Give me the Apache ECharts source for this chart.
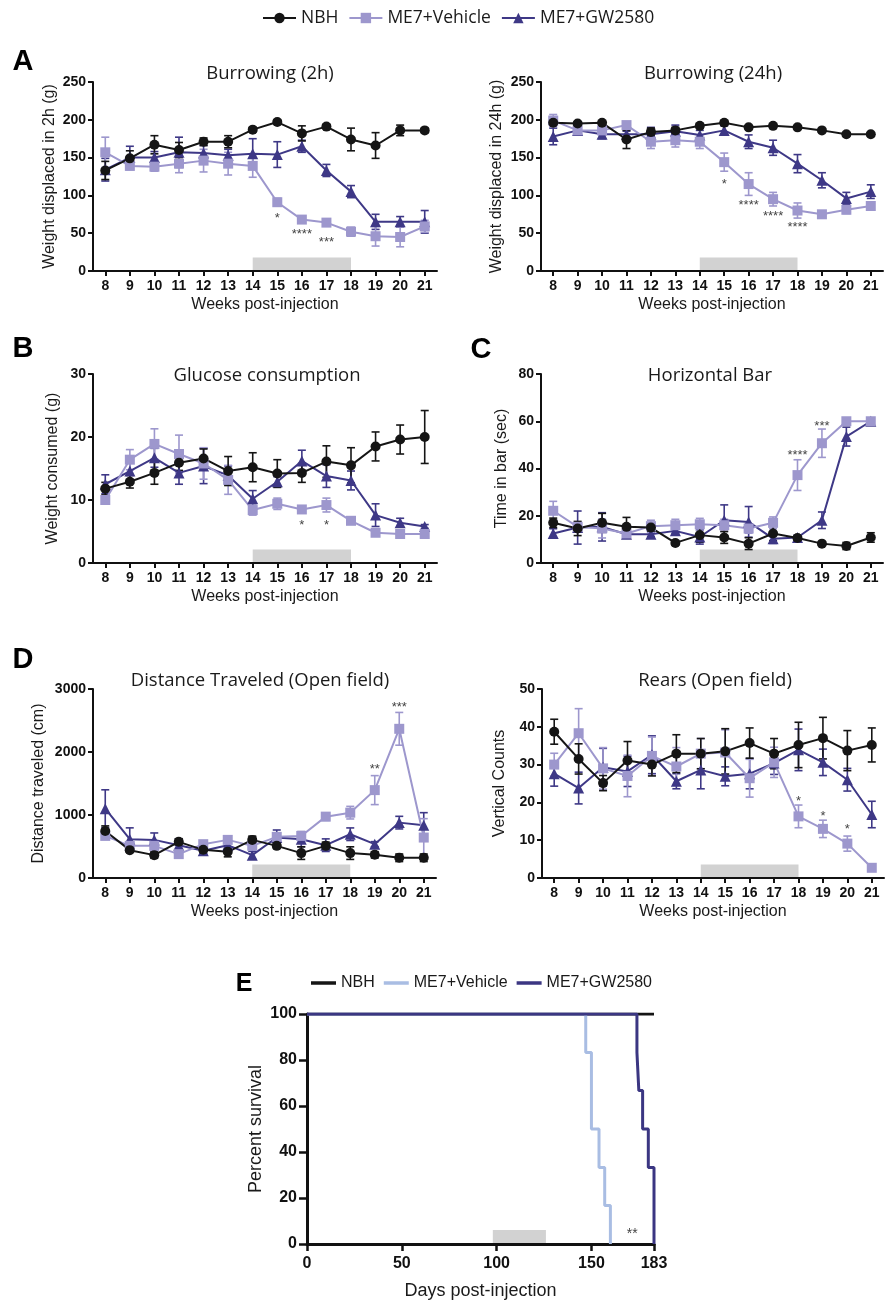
<!DOCTYPE html>
<html><head><meta charset="utf-8">
<script src="https://cdn.jsdelivr.net/npm/echarts@6/dist/echarts.min.js"></script>
<style>html,body{margin:0;padding:0;background:#fff}#c{width:891px;height:1301px}</style>
</head><body><div id="c"></div>
<script>
// ---------------- DATA ----------------
const weeks = [8,9,10,11,12,13,14,15,16,17,18,19,20,21];
const treatWeeks = [14, 18];
const treatDays = [98, 126];
const groupNames = ['NBH','ME7+Vehicle','ME7+GW2580'];

// A: Burrowing (2h)
const burrow2_NBH     = [133,149,167,160,171,171,187,197,182,191,174,166,186,186];
const burrow2_NBH_err = [12,10,12,10,5,8,3,3,10,3,15,17,7,3];
const burrow2_VEH     = [157,139,138,142,146,142,139,91,68,64,52,46,45,59];
const burrow2_VEH_err = [20,5,6,12,15,15,15,5,4,3,6,13,13,8];
const burrow2_GW      = [134,150,150,157,156,153,155,154,165,133,105,65,65,65];
const burrow2_GW_err  = [15,15,8,20,10,8,20,17,8,8,8,10,7,15];
const burrow2_stars   = [[15,73,'*'],[16,52,'****'],[17,41,'***']];

// A: Burrowing (24h)
const burrow24_NBH     = [196,195,196,174,184,186,192,196,190,192,190,186,181,181];
const burrow24_NBH_err = [3,2,2,12,5,4,3,3,2,2,2,2,2,2];
const burrow24_VEH     = [199,186,186,193,171,173,171,144,115,95,80,75,81,86];
const burrow24_VEH_err = [8,3,6,4,9,9,9,12,15,9,10,4,5,3];
const burrow24_GW      = [178,186,181,181,181,185,180,186,171,163,142,120,96,105];
const burrow24_GW_err  = [11,3,6,4,9,8,6,6,9,10,12,10,8,9];
const burrow24_stars   = [[15,118,'*'],[16,90,'****'],[17,76,'****'],[18,62,'****']];

// B: Glucose consumption
const glucose_NBH     = [11.8,12.9,14.3,15.9,16.6,14.6,15.2,14.2,14.3,16.1,15.5,18.5,19.6,20.0];
const glucose_NBH_err = [1,1,1.8,1.2,1.5,2.3,2.3,2.2,1.5,2.5,2.8,2.3,2.3,4.2];
const glucose_VEH     = [10.0,16.4,18.9,17.3,15.8,13.2,8.4,9.4,8.5,9.2,6.7,4.8,4.6,4.6];
const glucose_VEH_err = [0.6,1.6,2.4,3,2.5,2.3,0.8,0.9,0.3,1.1,0.3,0.3,0.3,0.3];
const glucose_GW      = [12.5,14.6,16.7,14.3,15.4,13.9,10.2,12.9,16.2,13.8,13.1,7.6,6.4,5.8];
const glucose_GW_err  = [1.5,1.5,1.5,1.8,2.8,1.5,1.3,0.8,1.7,1.8,1.5,1.8,0.7,0.3];
const glucose_stars   = [[16,6.4,'*'],[17,6.4,'*']];

// C: Horizontal Bar
const hbar_NBH     = [17.0,14.6,17.0,15.3,15.0,8.5,11.8,10.8,8.2,12.5,10.6,8.2,7.2,10.8];
const hbar_NBH_err = [2,3,4,4,1.5,1,3,2.5,2.5,3,1,0.5,1.5,2];
const hbar_VEH     = [22.1,15.3,14.6,12.5,15.6,16.0,16.4,16.0,14.6,17.0,37.2,50.7,60,60];
const hbar_VEH_err = [4,2,4,2,2.5,2.5,2.5,2.5,2,2.5,6.5,6,0,0];
const hbar_GW      = [12.5,15.0,15.3,12.2,12.2,13.6,11.0,18.1,17.4,10.3,10.8,18.1,53.5,60];
const hbar_GW_err  = [2,7,6,1.5,1,1,3,6.5,6.5,2,1,3.5,4,0];
const hbar_stars   = [[18,46.7,'****'],[19,58.9,'***']];

// D: Distance traveled (open field)
const dist_NBH     = [747,442,363,574,447,416,605,510,395,510,395,368,321,321];
const dist_NBH_err = [80,30,50,50,40,80,60,40,100,60,100,50,60,60];
const dist_VEH     = [668,510,510,379,537,605,510,653,668,974,1037,1395,2368,642];
const dist_VEH_err = [40,60,60,50,50,50,50,60,60,60,100,230,260,300];
const dist_GW      = [1100,616,605,521,432,521,363,642,616,521,695,537,879,837];
const dist_GW_err  = [300,180,110,100,50,80,60,120,120,100,100,40,100,200];
const dist_stars   = [[19,1774,'**'],[20,2747,'***']];

// D: Rears (open field)
const rears_NBH     = [38.7,31.5,25.1,31.1,30.0,32.9,32.9,33.5,35.7,32.9,35.2,37.0,33.7,35.2];
const rears_NBH_err = [3.3,4,2,5,3,5,4,6,4,4,6,5.5,5.3,4.5];
const rears_VEH     = [30.0,38.3,29.0,27.0,32.3,29.5,32.9,33.2,26.4,30.6,16.3,13.0,9.1,2.7];
const rears_VEH_err = [3,6.5,5.5,5.5,5,5,4,6,5,4,3,2.3,2,0.5];
const rears_GW      = [27.6,23.8,29.3,28.2,32.6,25.6,28.6,26.9,27.6,30.4,33.9,30.6,26.0,16.8];
const rears_GW_err  = [3.3,4.2,5,4,5,2,5,2.5,4,3,5.5,3.5,3,3.5];
const rears_stars   = [[18,20.9,'*'],[19,17,'*'],[20,13.5,'*']];

// E: Survival (day, percent) change points
const surv_NBH = [[0,100],[183,100]];
const surv_VEH = [[0,100],[147,83.3],[150,50],[154,33.3],[157,16.7],[160,0]];
const surv_GW  = [[0,100],[174,83.3],[175,66.7],[177,50],[180,33.3],[183,0]];
const surv_stars = [[171.5,5.5,'**']];
const survTicks = [0,50,100,150,183];

// ---------------- STYLE ----------------
const COL = ['#151515','#9d97cd','#3e3886'];
const COL_E = ['#151515','#a9bde3','#3b3682'];
const SYM = ['circle','rect','triangle'];
const AX = '"Liberation Sans", Arial, Helvetica, sans-serif';
const TF = '"Open Sans", "Noto Sans", sans-serif';
const GRAY = '#d2d2d2';
const plain = v => String(v);

const panels = [
  {grid:{left:93,top:82,width:344,height:189}, ymax:250, yint:50, yname:'Weight displaced in 2h (g)', yGap:35,
   d:[[burrow2_NBH,burrow2_NBH_err],[burrow2_VEH,burrow2_VEH_err],[burrow2_GW,burrow2_GW_err]], stars:burrow2_stars},
  {grid:{left:541,top:82,width:342,height:189}, ymax:250, yint:50, yname:'Weight displaced in 24h (g)', yGap:36,
   d:[[burrow24_NBH,burrow24_NBH_err],[burrow24_VEH,burrow24_VEH_err],[burrow24_GW,burrow24_GW_err]], stars:burrow24_stars},
  {grid:{left:93,top:374,width:344,height:189}, ymax:30, yint:10, yname:'Weight consumed (g)', yGap:32,
   d:[[glucose_NBH,glucose_NBH_err],[glucose_VEH,glucose_VEH_err],[glucose_GW,glucose_GW_err]], stars:glucose_stars},
  {grid:{left:541,top:374,width:342,height:189}, ymax:80, yint:20, yname:'Time in bar (sec)', yGap:31,
   d:[[hbar_NBH,hbar_NBH_err],[hbar_VEH,hbar_VEH_err],[hbar_GW,hbar_GW_err]], stars:hbar_stars},
  {grid:{left:93,top:689,width:343,height:189}, ymax:3000, yint:1000, yname:'Distance traveled (cm)', yGap:46,
   d:[[dist_NBH,dist_NBH_err],[dist_VEH,dist_VEH_err],[dist_GW,dist_GW_err]], stars:dist_stars},
  {grid:{left:542,top:689,width:342,height:189}, ymax:50, yint:10, yname:'Vertical Counts', yGap:34,
   d:[[rears_NBH,rears_NBH_err],[rears_VEH,rears_VEH_err],[rears_GW,rears_GW_err]], stars:rears_stars}
];

const titles = [
  {text:'Burrowing (2h)', x:270, y:75},
  {text:'Burrowing (24h)', x:713, y:75},
  {text:'Glucose consumption', x:267, y:377},
  {text:'Horizontal Bar', x:710, y:377},
  {text:'Distance Traveled (Open field)', x:260, y:682},
  {text:'Rears (Open field)', x:715, y:682}
];
const letters = [
  {text:'A', x:23, y:62, s:29},{text:'B', x:23, y:349, s:29},{text:'C', x:481, y:350, s:29},
  {text:'D', x:23, y:660, s:29},{text:'E', x:244, y:984, s:25}
];

const grids=[], xAxes=[], yAxes=[], series=[];

function grayBar(idx, range, h){
  return {type:'custom', xAxisIndex:idx, yAxisIndex:idx, z:1, silent:true, animation:false,
    data:[[range[0], range[1]]], encode:{x:[0,1]},
    renderItem:(params, api)=>{
      const p1 = api.coord([api.value(0),0]), p2 = api.coord([api.value(1),0]);
      return {type:'rect', shape:{x:p1[0], y:p1[1]-h-1, width:p2[0]-p1[0], height:h}, style:{fill:GRAY}};
    }};
}
function starSeries(idx, stars, fs){
  return {type:'custom', xAxisIndex:idx, yAxisIndex:idx, z:6, silent:true, animation:false,
    data:stars.map(s=>[s[0],s[1]]), encode:{x:0,y:1},
    renderItem:(params, api)=>{
      const p = api.coord([api.value(0), api.value(1)]);
      return {type:'text', x:p[0], y:p[1]+fs*0.22, style:{text:stars[params.dataIndex][2], fill:'#444',
        fontSize:fs, fontFamily:AX, align:'center', verticalAlign:'middle'}};
    }};
}
function errSeries(idx, vals, errs, color, name){
  return {type:'custom', name:name+' SEM', xAxisIndex:idx, yAxisIndex:idx, z:3, silent:true, animation:false,
    data:weeks.map((w,k)=>[w, vals[k], errs[k]]), encode:{x:0,y:1},
    renderItem:(params, api)=>{
      const x=api.value(0), y=api.value(1), e=api.value(2);
      const t=api.coord([x,y+e]), b=api.coord([x,y-e]);
      const st={stroke:color, lineWidth:1.6};
      return {type:'group', children:[
        {type:'line', shape:{x1:t[0],y1:t[1],x2:b[0],y2:b[1]}, style:st},
        {type:'line', shape:{x1:t[0]-4,y1:t[1],x2:t[0]+4,y2:t[1]}, style:st},
        {type:'line', shape:{x1:b[0]-4,y1:b[1],x2:b[0]+4,y2:b[1]}, style:st}
      ]};
    }};
}

const axLine = {show:true, onZero:false, lineStyle:{color:'#111', width:2}};
panels.forEach((p,i)=>{
  grids.push(Object.assign({containLabel:false, outerBoundsMode:'none', show:false}, p.grid));
  xAxes.push({type:'value', gridIndex:i, min:7.5, max:21.5,
    name:'Weeks post-injection', nameLocation:'middle', nameGap:26,
    nameTextStyle:{fontFamily:AX, fontSize:16, color:'#1a1a1a'},
    axisLine:axLine, axisTick:{show:true, length:5, customValues:weeks, lineStyle:{color:'#111', width:2}},
    axisLabel:{show:true, customValues:weeks, formatter:plain, fontFamily:AX, fontWeight:'bold', fontSize:14, color:'#111', margin:8},
    splitLine:{show:false}});
  yAxes.push({type:'value', gridIndex:i, min:0, max:p.ymax, interval:p.yint,
    name:p.yname, nameLocation:'middle', nameGap:p.yGap, nameRotate:90,
    nameTextStyle:{fontFamily:AX, fontSize:16, color:'#1a1a1a'},
    axisLine:axLine, axisTick:{show:true, length:5, lineStyle:{color:'#111', width:2}},
    axisLabel:{formatter:plain, fontFamily:AX, fontWeight:'bold', fontSize:14, color:'#111', margin:7},
    splitLine:{show:false}});
  series.push(grayBar(i, treatWeeks, 12.5));
  [2,1,0].forEach(g=>{
    series.push(errSeries(i, p.d[g][0], p.d[g][1], COL[g], groupNames[g]));
  });
  [2,1,0].forEach(g=>{
    series.push({type:'line', name:groupNames[g], xAxisIndex:i, yAxisIndex:i, z:4, animation:false,
      data:weeks.map((w,k)=>[w, p.d[g][0][k]]), symbol:SYM[g], symbolSize: g===2?11:10, showSymbol:true,
      lineStyle:{color:COL[g], width:2}, itemStyle:{color:COL[g]}, emphasis:{disabled:true}});
  });
  series.push(starSeries(i, p.stars, 13));
});

// Panel E
const ei = panels.length;
grids.push({left:307, top:1014, width:347, height:230, containLabel:false, outerBoundsMode:'none', show:false});
xAxes.push({type:'value', gridIndex:ei, min:0, max:183,
  name:'Days post-injection', nameLocation:'middle', nameGap:38,
  nameTextStyle:{fontFamily:AX, fontSize:18, color:'#1a1a1a'},
  axisLine:{show:true, onZero:false, lineStyle:{color:'#111', width:3}},
  axisTick:{show:true, length:7, customValues:survTicks, lineStyle:{color:'#111', width:2.5}},
  axisLabel:{show:true, customValues:survTicks, formatter:plain, fontFamily:AX, fontWeight:'bold', fontSize:16, color:'#111', margin:12},
  splitLine:{show:false}});
yAxes.push({type:'value', gridIndex:ei, min:0, max:100, interval:20,
  name:'Percent survival', nameLocation:'middle', nameGap:42, nameRotate:90,
  nameTextStyle:{fontFamily:AX, fontSize:18, color:'#1a1a1a'},
  axisLine:{show:true, onZero:false, lineStyle:{color:'#111', width:3}},
  axisTick:{show:true, length:8, lineStyle:{color:'#111', width:2.5}},
  axisLabel:{formatter:plain, fontFamily:AX, fontWeight:'bold', fontSize:16, color:'#111', margin:10},
  splitLine:{show:false}});
series.push(grayBar(ei, treatDays, 13));
[surv_NBH, surv_VEH, surv_GW].forEach((d,g)=>{
  series.push({type:'line', name:groupNames[g], xAxisIndex:ei, yAxisIndex:ei, z:4+g, animation:false,
    data:d, step:'end', showSymbol:false, symbol:'none',
    lineStyle:{color:COL_E[g], width:3}, itemStyle:{color:COL_E[g]}, emphasis:{disabled:true}});
});
series.push(starSeries(ei, surv_stars, 14));

const titleArr = titles.map(t=>({text:t.text, left:t.x, top:t.y-11, textAlign:'center', padding:0,
  textStyle:{fontFamily:TF, fontSize:18.5, fontWeight:'normal', color:'#1a1a1a'}}))
 .concat(letters.map(t=>({text:t.text, left:t.x, top:t.y-t.s/2, textAlign:'center', padding:0,
  textStyle:{fontFamily:AX, fontSize:t.s, fontWeight:'bold', color:'#000'}})));

const option = {
  backgroundColor:'#fff',
  animation:false,
  title:titleArr,
  legend:[
    {left:262, top:9, padding:0, itemWidth:33, itemHeight:13, itemGap:10, selectedMode:false,
     data:groupNames, textStyle:{fontFamily:TF, fontSize:17.5, color:'#1a1a1a'}},
    {left:311, top:975, padding:0, icon:'rect', itemWidth:25, itemHeight:3.5, itemGap:9, selectedMode:false,
     data:groupNames.map((n,g)=>({name:n, itemStyle:{color:COL_E[g]}})),
     textStyle:{fontFamily:AX, fontSize:16, color:'#1a1a1a'}}
  ],
  grid:grids, xAxis:xAxes, yAxis:yAxes, series:series
};
const chart = echarts.init(document.getElementById('c'), null, {renderer:'canvas'});
chart.setOption(option);
</script>
</body></html>
